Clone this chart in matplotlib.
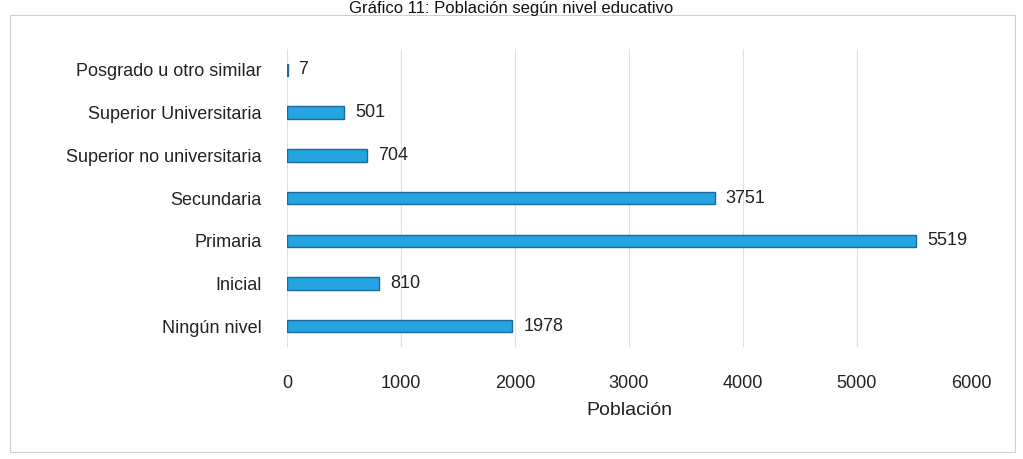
import matplotlib
matplotlib.use("Agg")
import matplotlib.pyplot as plt

# Data (bottom to top, as drawn)
categories = ["Ningún nivel", "Inicial", "Primaria", "Secundaria",
              "Superior no universitaria", "Superior Universitaria",
              "Posgrado u otro similar"]
values = [1978, 810, 5519, 3751, 704, 501, 7]
xticks = [0, 1000, 2000, 3000, 4000, 5000, 6000]

plt.rcParams["font.family"] = ["Liberation Sans Narrow", "Liberation Sans", "DejaVu Sans"]

fig = plt.figure(figsize=(10.23, 4.59), dpi=100)
ax = fig.add_axes([0.2805, 0.243, 0.6686, 0.651])

ax.barh(range(len(categories)), values, height=0.29, color="#24a4e0",
        edgecolor="#1a6a9c", linewidth=1.0, zorder=3)

for i, v in enumerate(values):
    ax.text(v + 95, i, str(v), va="center", ha="left", fontsize=13, color="#222222")

ax.set_xlim(0, 6000)
ax.set_ylim(-0.5, len(categories) - 0.5)
ax.set_xticks(xticks)
ax.set_xticklabels([str(t) for t in xticks])
ax.set_yticks(range(len(categories)))
ax.set_yticklabels(categories)
ax.tick_params(axis="x", length=0, pad=20, labelsize=13, colors="#222222")
ax.tick_params(axis="y", length=0, pad=18, labelsize=13, colors="#222222")
ax.set_xlabel("Población", fontsize=14, color="#222222", labelpad=7)

ax.grid(axis="x", color="#e0e0e0", linewidth=0.8, zorder=0)
for s in ax.spines.values():
    s.set_visible(False)

# outer chart frame
frame = plt.Rectangle((0.010, 0.015), 0.982, 0.952, transform=fig.transFigure,
                      fill=False, edgecolor="#d0d0d0", linewidth=0.8)
fig.add_artist(frame)

# title (sits at the very top of the image, as in the scan)
fig.text(0.5, 0.998, "Gráfico 11: Población según nivel educativo", ha="center",
         va="top", fontsize=12, color="#111111")

fig.savefig("out.png", dpi=100)
